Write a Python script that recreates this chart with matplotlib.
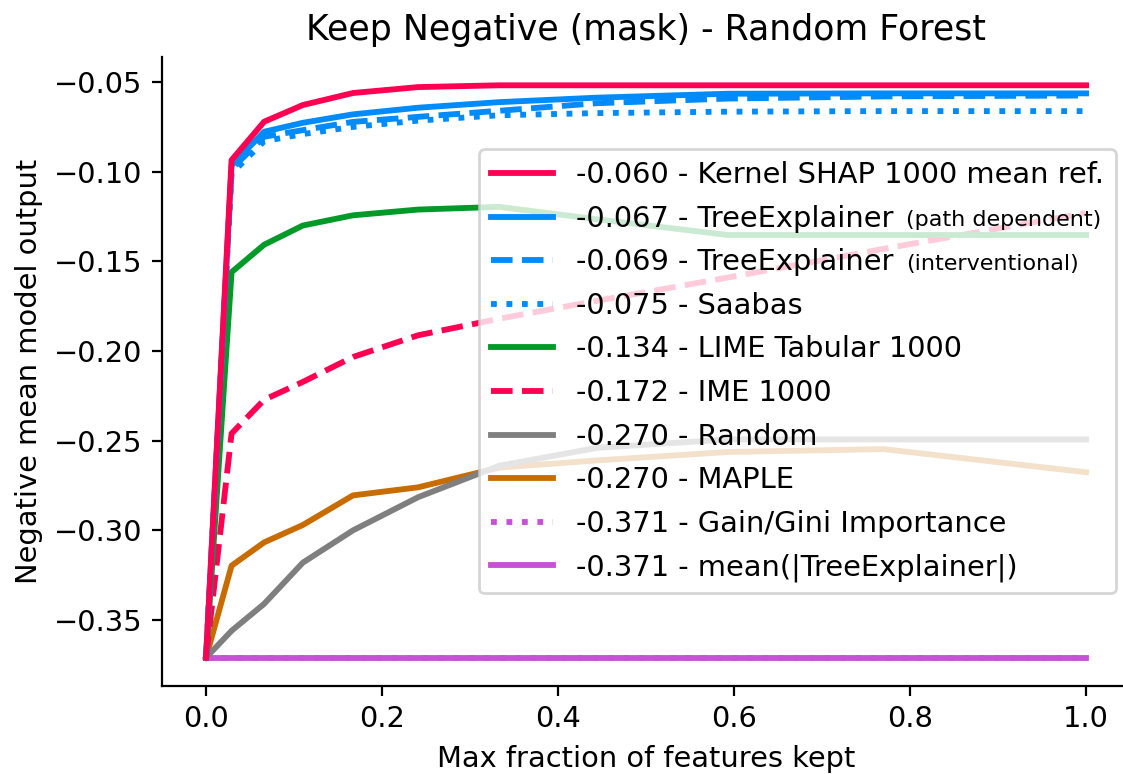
import matplotlib
matplotlib.use("Agg")
import matplotlib.pyplot as plt

plt.rcParams["font.size"] = 10.4

# fraction of features kept (x positions of the benchmark steps)
fractions = [0.0, 0.029, 0.066, 0.110, 0.167, 0.241, 0.333, 0.444, 0.593, 0.770, 1.0]

kernel_shap = [-0.371, -0.0935, -0.0721, -0.0628, -0.0561, -0.0528, -0.0518, -0.0518, -0.0518, -0.0518, -0.0518]
tree_path = [-0.371, -0.0965, -0.0777, -0.0727, -0.0680, -0.0643, -0.0612, -0.0587, -0.0565, -0.0563, -0.0563]
tree_interv = [-0.371, -0.0985, -0.0805, -0.0768, -0.0722, -0.0694, -0.0660, -0.0618, -0.0592, -0.0580, -0.0575]
saabas = [-0.371, -0.1010, -0.0830, -0.0790, -0.0750, -0.0715, -0.0685, -0.0673, -0.0665, -0.0662, -0.0662]
lime = [-0.371, -0.1560, -0.1407, -0.1300, -0.1243, -0.1211, -0.1196, -0.1265, -0.1353, -0.1353, -0.1353]
ime = [-0.371, -0.2460, -0.2272, -0.2172, -0.2033, -0.1912, -0.1820, -0.1720, -0.1590, -0.1430, -0.1230]
random = [-0.371, -0.3560, -0.3410, -0.3180, -0.3000, -0.2815, -0.2640, -0.2540, -0.2493, -0.2493, -0.2493]
maple = [-0.371, -0.3197, -0.3067, -0.2970, -0.2805, -0.2760, -0.2650, -0.2610, -0.2563, -0.2547, -0.2676]
gain = [-0.371] * 11
mean_abs_tree = [-0.371] * 11

labels = [
    "-0.060 - Kernel SHAP 1000 mean ref.",
    "-0.067 - TreeExplainer",
    "-0.069 - TreeExplainer",
    "-0.075 - Saabas",
    "-0.134 - LIME Tabular 1000",
    "-0.172 - IME 1000",
    "-0.270 - Random",
    "-0.270 - MAPLE",
    "-0.371 - Gain/Gini Importance",
    "-0.371 - mean(|TreeExplainer|)",
]
label_notes = {1: "(path dependent)", 2: "(interventional)"}

red = "#ff0052"
blue = "#008bfa"
green = "#009a28"
gray = "#7f7f7f"
orange = "#c86c00"
purple = "#c552d4"

series = [
    (kernel_shap, red, "-"),
    (tree_path, blue, "-"),
    (tree_interv, blue, "--"),
    (saabas, blue, ":"),
    (lime, green, "-"),
    (ime, red, "--"),
    (random, gray, "-"),
    (maple, orange, "-"),
    (gain, purple, ":"),
    (mean_abs_tree, purple, "-"),
]

fig = plt.figure(figsize=(5.615, 3.87), dpi=200)
ax = fig.add_axes([0.1443, 0.1137, 0.862, 0.8127])

for i in reversed(range(len(series))):
    vals, col, ls = series[i]
    ax.plot(fractions, vals, color=col, linestyle=ls, linewidth=2.1, label=labels[i],
            zorder=2 + (len(series) - i) * 0.01)

handles, labs = ax.get_legend_handles_labels()
handles = handles[::-1]
labs = labs[::-1]
leg = ax.legend(handles, labs, loc="center right", fontsize=10.4, handlelength=2.15,
                labelspacing=0.54)

texts = leg.get_texts()
for i, note in label_notes.items():
    ax.annotate(note, xy=(1, 0), xycoords=texts[i], xytext=(4.5, 2.4),
                textcoords="offset points", fontsize=8.0, va="baseline", zorder=6)

ax.set_xlim(-0.05, 1.05)
ax.set_ylim(-0.3868, -0.036)
ax.set_xticks([0.0, 0.2, 0.4, 0.6, 0.8, 1.0])
ax.set_yticks([-0.35, -0.30, -0.25, -0.20, -0.15, -0.10, -0.05])
ax.spines["top"].set_visible(False)
ax.spines["right"].set_visible(False)
ax.set_xlabel("Max fraction of features kept")
ax.set_ylabel("Negative mean model output")
ax.set_title("Keep Negative (mask) - Random Forest", fontsize=12.5)

fig.savefig("out.png", dpi=200)
